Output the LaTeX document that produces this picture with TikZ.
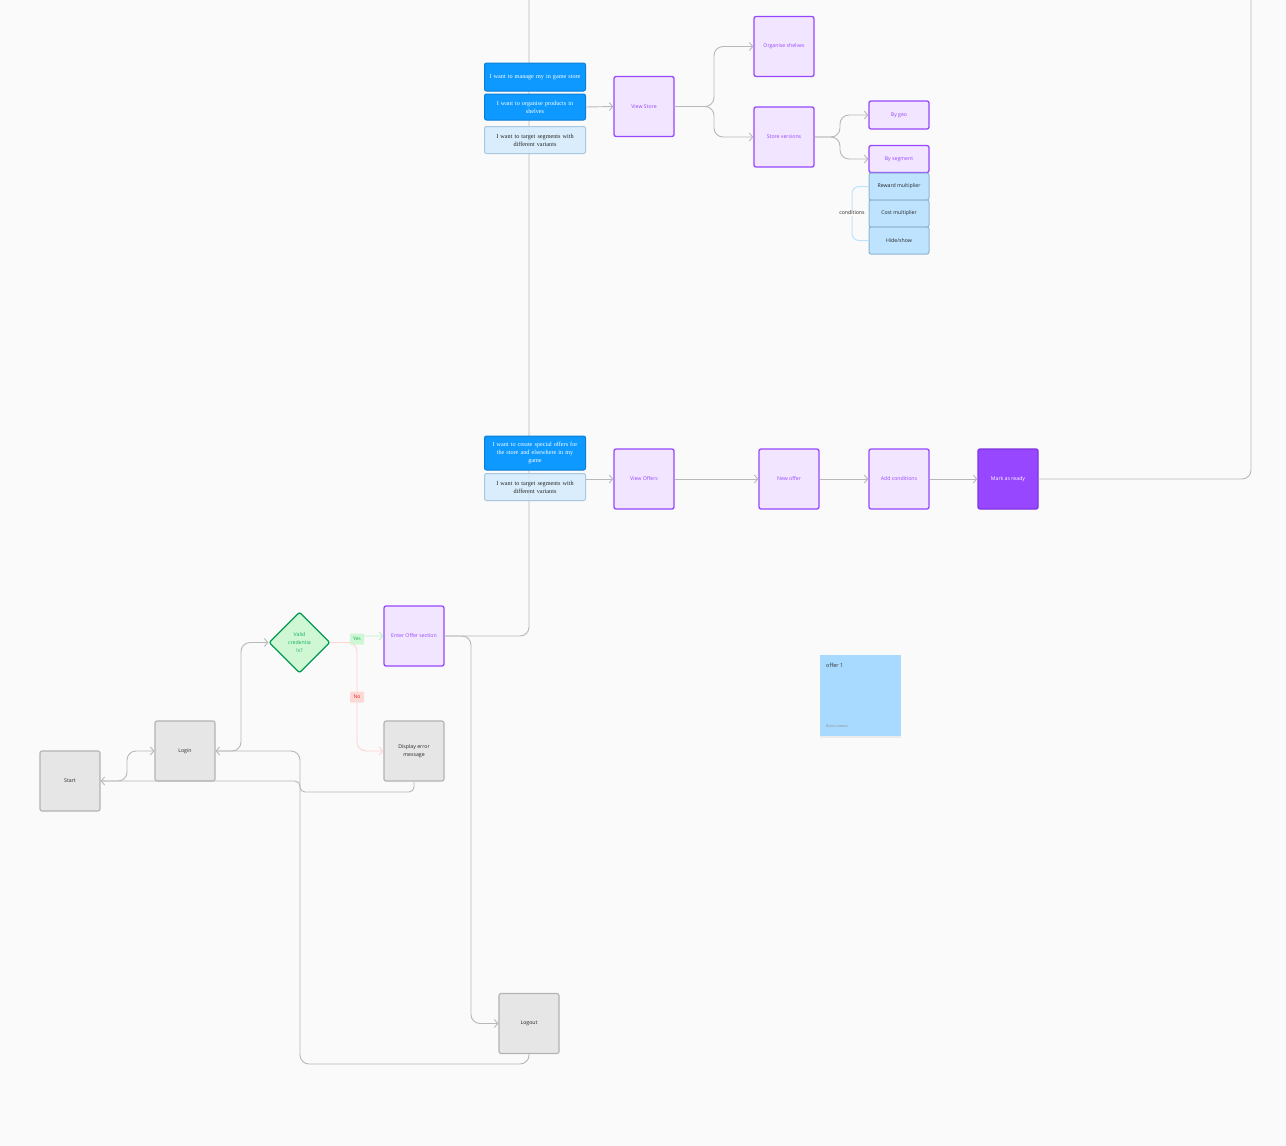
\documentclass[tikz,border=0pt]{standalone}
\usepackage{fontspec}
\newfontfamily\uifont{Open Sans}
\newfontfamily\storyfont{Liberation Serif}
\usetikzlibrary{positioning,shapes.geometric,shadows,arrows.meta}

\definecolor{canvas}{HTML}{FAFAFA}
\definecolor{linegrey}{HTML}{B8B8B8}
\definecolor{boxgrey}{HTML}{E6E6E6}
\definecolor{edgegrey}{HTML}{B3B3B3}
\definecolor{pagefill}{HTML}{F1E5FF}
\definecolor{pagepurple}{HTML}{9747FF}
\definecolor{darkpurple}{HTML}{8033E0}
\definecolor{storyblue}{HTML}{0D99FF}
\definecolor{storyedge}{HTML}{0A7ED6}
\definecolor{needfill}{HTML}{D4EBFD}
\definecolor{neededge}{HTML}{A9C8E0}
\definecolor{condfill}{HTML}{BDE3FF}
\definecolor{condedge}{HTML}{8FB4D1}
\definecolor{okfill}{HTML}{CFF7D3}
\definecolor{okedge}{HTML}{009951}
\definecolor{oktext}{HTML}{14AE5C}
\definecolor{okline}{HTML}{B9F0C8}
\definecolor{nofill}{HTML}{FDD9D6}
\definecolor{notext}{HTML}{EC221F}
\definecolor{noline}{HTML}{FFD4D0}
\definecolor{stickyblue}{HTML}{A8D9FF}

\begin{document}
\begin{tikzpicture}[x=1pt,y=-1pt]
\tikzstyle{every node}+=[inner sep=1pt, align=center]
\tikzstyle{flow}=[draw=linegrey, line width=0.9pt, rounded corners=9pt, -{Straight Barb[length=3.5pt,width=8pt]}]
\tikzstyle{plain}=[draw=linegrey, line width=0.9pt, rounded corners=9pt]
\tikzstyle{termbox}=[draw=edgegrey, fill=boxgrey, rounded corners=2pt, line width=1.1pt, minimum width=60pt, minimum height=60pt, font=\uifont\fontsize{5.2}{8}\selectfont, text=black!85]
\tikzstyle{pagebox}=[draw=pagepurple, fill=pagefill, rounded corners=2pt, line width=1.3pt, minimum width=60pt, minimum height=60pt, font=\uifont\fontsize{5.2}{8}\selectfont, text=pagepurple]
\tikzstyle{smallpage}=[pagebox, minimum height=27pt]
\tikzstyle{condbox}=[draw=condedge, fill=condfill, rounded corners=2pt, line width=1pt, minimum width=60pt, minimum height=27pt, font=\uifont\fontsize{5.2}{8}\selectfont, text=black!85]
\tikzstyle{storybox}=[draw=storyedge, fill=storyblue, rounded corners=2pt, line width=1pt, minimum width=101pt, text width=99pt, font=\storyfont\fontsize{6.2}{8.2}\selectfont, text=white]
\tikzstyle{needbox}=[draw=neededge, fill=needfill, fill opacity=0.85, text opacity=1, rounded corners=2pt, line width=1pt, minimum width=101pt, text width=99pt, font=\storyfont\fontsize{6.2}{8.2}\selectfont, text=black!85]
\tikzstyle{tag}=[rounded corners=1pt, minimum width=14pt, minimum height=11pt, font=\uifont\fontsize{5}{6}\selectfont]

\fill [canvas] (0,0) rectangle (1286,1146);
\useasboundingbox (0,0) rectangle (1286,1146);

\coordinate (topA) at (529,0);
\coordinate (topB) at (1251,0);

\node [pagebox] (enter) at (414,636) {Enter Offer section};
\node [pagebox, fill=pagepurple, draw=darkpurple, text=white] (ready) at (1008,479) {Mark as ready};

\draw [plain] (enter.east) -- (529,636) -- (topA);
\draw [plain] (ready.east) -- (1251,479) -- (topB);

\node [storybox, minimum height=28pt] (manage) at (535,77) {I want to manage my in game store};
\node [storybox, minimum height=26pt] (shelves) at (535,107) {I want to organise products in\\shelves};
\node [needbox, minimum height=27pt] (segA) at (535,140) {I want to target segments with\\different variants};
\node [storybox, minimum height=34pt] (special) at (535,453) {I want to create special offers for\\the store and elsewhere in my\\game};
\node [needbox, minimum height=27pt] (segB) at (535,487) {I want to target segments with\\different variants};

\node [pagebox] (vstore) at (644,106.5) {View Store};
\node [pagebox] (organise) at (784,46.5) {Organise shelves};
\node [pagebox] (versions) at (784,137) {Store versions};
\node [smallpage, minimum height=28pt] (geo) at (899,115) {By geo};
\node [smallpage] (segment) at (899,159) {By segment};
\node [condbox] (reward) at (899,186.5) {Reward multiplier};
\node [condbox] (cost) at (899,213.5) {Cost multiplier};
\node [condbox] (hide) at (899,240.5) {Hide/show};

\draw [draw=condfill, line width=1pt, rounded corners=7pt] (reward.west) -- (852,186.5) -- (852,240.5) -- (hide.west);
\node [fill=canvas, font=\uifont\fontsize{5.2}{6}\selectfont, text=black!85, inner sep=0.5pt] (cond) at (852,213) {conditions};

\node [pagebox] (voffers) at (644,479) {View Offers};
\node [pagebox] (newoffer) at (789,479) {New offer};
\node [pagebox] (addcond) at (899,479) {Add conditions};

\node [termbox] (start) at (70,781) {Start};
\node [termbox] (login) at (185,751) {Login};
\node [termbox] (err) at (414,751) {Display error\\message};
\node [termbox] (logout) at (529,1023.5) {Logout};
\node [diamond, draw=okedge, fill=okfill, line width=1.2pt, rounded corners=2pt, minimum width=61pt, minimum height=61pt, inner sep=0pt, font=\uifont\fontsize{5.2}{8}\selectfont, text=oktext] (valid) at (299.5,642.5) {Valid\\credentia\\ls?};

\draw [flow] (shelves.east) -- (vstore.west);
\draw [flow] (vstore.east) -- (714,106.5) -- (714,46.5) -- (organise.west);
\draw [flow] (vstore.east) -- (714,106.5) -- (714,137) -- (versions.west);
\draw [flow] (versions.east) -- (840,137) -- (840,115) -- (geo.west);
\draw [flow] (versions.east) -- (840,137) -- (840,159) -- (segment.west);

\draw [flow] (segB.east |- voffers.west) -- (voffers.west);
\draw [flow] (voffers.east) -- (newoffer.west);
\draw [flow] (newoffer.east) -- (addcond.west);
\draw [flow] (addcond.east) -- (ready.west);

\draw [flow] (start.east) -- (127,781) -- (127,751) -- (login.west);
\draw [flow] (login.east) -- (241,751) -- (241,642.5) -- (valid.west);
\draw [flow] (logout.south) -- (529,1064) -- (300,1064) -- (300,751) -- (login.east);
\draw [flow, rounded corners=5pt] (err.south) -- (414,792) -- (300,792) -- (300,781) -- (start.east);
\draw [flow] (enter.east) -- (471,636) -- (471,1023.5) -- (logout.west);
\draw [flow, draw=okline, rounded corners=2pt] (valid.east) -- (357,642.5) -- (357,636) -- (enter.west);
\draw [flow, draw=noline] (valid.east) -- (357,642.5) -- (357,751) -- (err.west);
\node [tag, fill=okfill, text=oktext] (yes) at (357,639) {Yes};
\node [tag, fill=nofill, text=notext] (no) at (357,697) {No};

\node [fill=stickyblue, minimum width=81pt, minimum height=81pt, drop shadow={opacity=0.12, shadow xshift=0pt, shadow yshift=-1.5pt}] (sticky) at (860.5,695.5) {};
\node [anchor=west, font=\uifont\fontsize{5.5}{6}\selectfont, text=black!80] (stitle) at (825,665) {offer 1};
\node [anchor=west, font=\uifont\fontsize{3.6}{4}\selectfont, text=black!45] (sauthor) at (825,726.5) {Boris Lozano};
\end{tikzpicture}
\end{document}
